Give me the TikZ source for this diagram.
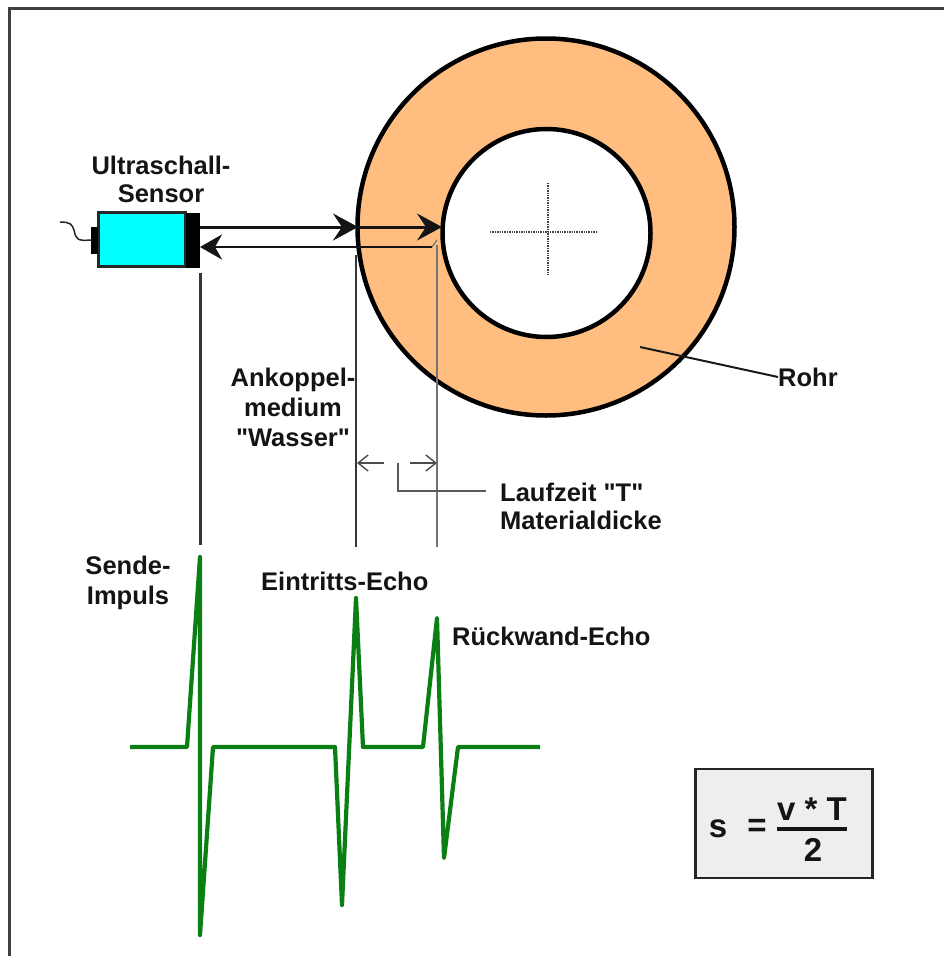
\documentclass[tikz,border=0pt]{standalone}
\usepackage{fontspec}
\setmainfont{Liberation Sans}
\newfontfamily\lblfont{Liberation Sans}[Ligatures=ResetAll]
\usetikzlibrary{arrows.meta}
\definecolor{ring}{RGB}{255,190,128}
\definecolor{pulse}{RGB}{10,128,20}
\definecolor{boxgrey}{RGB}{238,238,238}
\definecolor{ink}{RGB}{20,20,20}
\definecolor{aqua}{RGB}{0,255,255}
\tikzset{
  lbl/.style={font=\lblfont\fontsize{25.5}{28}\selectfont\bfseries,text=ink,inner sep=0pt,align=center},
  frm/.style={font=\lblfont\fontsize{33}{36}\selectfont\bfseries,text=ink,inner sep=0pt},
  vline/.style={draw=ink!85,line width=2.6pt},
  bigtip/.style={-{Stealth[length=25pt,width=27pt,inset=9pt]}},
  midtip/.style={-{Stealth[length=22pt,width=25pt,inset=7pt]}},
  smalltip/.style={-{Straight Barb[length=10pt,width=16pt]}},
}
\begin{document}
\begin{tikzpicture}[x=1pt,y=-1pt]
\useasboundingbox (0,0) rectangle (944,956);
% frame
\coordinate (f1) at (9,956); \coordinate (f2) at (9,8); \coordinate (f3) at (944,8);
\draw[draw=black!75,line width=3pt] (f1) -- (f2) -- (f3);
% ring
\node (outer) at (546,227) [circle,draw=black,line width=4.5pt,fill=ring,minimum size=377pt,inner sep=0pt] {};
\node (inner) at (546.5,233) [circle,draw=black,line width=4.5pt,fill=white,minimum size=208pt,inner sep=0pt] {};
\coordinate (ch1) at (490,232); \coordinate (ch2) at (598,232);
\coordinate (cv1) at (548,183); \coordinate (cv2) at (548,275);
\draw[densely dotted,line width=1.4pt,black!75] (ch1) -- (ch2);
\draw[densely dotted,line width=1.4pt,black!75] (cv1) -- (cv2);
% sensor
\node (body) at (142,239.5) [draw=black!85,line width=3pt,fill=aqua,minimum width=87pt,minimum height=54pt,inner sep=0pt] {};
\node (cap) at (193,240) [fill=black,minimum width=14pt,minimum height=55pt,inner sep=0pt] {};
\node (plug) at (94.5,240) [fill=black,minimum width=7pt,minimum height=27pt,inner sep=0pt] {};
\coordinate (w0) at (60,222);
\draw[line width=1.5pt,black!85] (w0) .. controls (70,222) and (72,224) .. (74,230) .. controls (76,240) and (78,241) .. (91,240);
% rays
\coordinate (a0) at (200,227); \coordinate (a1) at (358,227); \coordinate (a2) at (442,227);
\coordinate (b0) at (432,247); \coordinate (b1) at (200,247);
\draw[draw=ink,fill=ink,line width=3pt,bigtip] (a0) -- (a1);
\draw[draw=ink,fill=ink,line width=3pt,bigtip] (a1) -- (a2);
\draw[draw=ink,fill=ink,line width=2.8pt,midtip] (b0) -- (b1);
% verticals
\coordinate (v1a) at (200.5,273); \coordinate (v1b) at (200.5,545);
\coordinate (v2a) at (356,255); \coordinate (v2b) at (356,547);
\coordinate (v3a) at (437,245); \coordinate (v3b) at (437,547);
\coordinate (v3c) at (437,240);
\draw[vline] (v1a) -- (v1b);
\draw[vline] (v2a) -- (v2b);
\draw[vline,draw=black!55] (v3a) -- (v3b);
\draw[line width=1.2pt,black!55] (b0) -- (v3c);
% dimension arrows
\coordinate (d1) at (384,463); \coordinate (d2) at (357,463);
\coordinate (d3) at (410,463); \coordinate (d4) at (437,463);
\draw[line width=1.4pt,black!70,smalltip] (d1) -- (d2);
\draw[line width=1.4pt,black!70,smalltip] (d3) -- (d4);
\coordinate (e1) at (398,463); \coordinate (e2) at (398,491); \coordinate (e3) at (486,491);
\draw[line width=1.4pt,black!65] (e1) -- (e2) -- (e3);
% Rohr leader
\coordinate (r1) at (640,347);
\node[lbl,anchor=west] (rohr) at (778,377) {Rohr};
\draw[line width=2pt,black!90] (r1) -- (rohr.west);
% labels
\node[lbl] (us) at (161,179.5) {Ultraschall-\\Sensor};
\node[lbl,font=\lblfont\fontsize{25.5}{30}\selectfont\bfseries] (ank) at (293,407.5) {Ankoppel-\\medium\\"Wasser"};
\node[lbl,align=left,anchor=west] (lz) at (500,506.5) {Laufzeit "T"\\Materialdicke};
\node[lbl,font=\lblfont\fontsize{25.5}{30}\selectfont\bfseries] (si) at (128,582.5) {Sende-\\Impuls};
\node[lbl,anchor=west] (ee) at (261,581) {Eintritts-Echo};
\node[lbl,anchor=west] (re) at (452,636) {Rückwand-Echo};
% pulse
\coordinate (p0) at (130,747);
\coordinate (p9) at (540,747);
\draw[pulse,line width=4.2pt,line join=round] (p0) -- (187,747) -- (200,557) -- (200,935) -- (213,747) -- (335,747) -- (342,905) -- (356,598) -- (363,747) -- (423,747) -- (437,618) -- (444,858) -- (458,747) -- (p9);
% formula
\node (fbox) at (784,823.5) [draw=black!85,line width=2.4pt,fill=boxgrey,minimum width=177pt,minimum height=109pt,inner sep=0pt] {};
\node[frm] (s) at (718,829) {s};
\node[frm] (eq) at (757,828) {=};
\node[frm] (num) at (812,809) {v * T};
\node[frm] (den) at (813,850) {2};
\coordinate (fr1) at (777,829); \coordinate (fr2) at (847,829);
\draw[line width=4pt,ink] (fr1) -- (fr2);
\end{tikzpicture}
\end{document}
